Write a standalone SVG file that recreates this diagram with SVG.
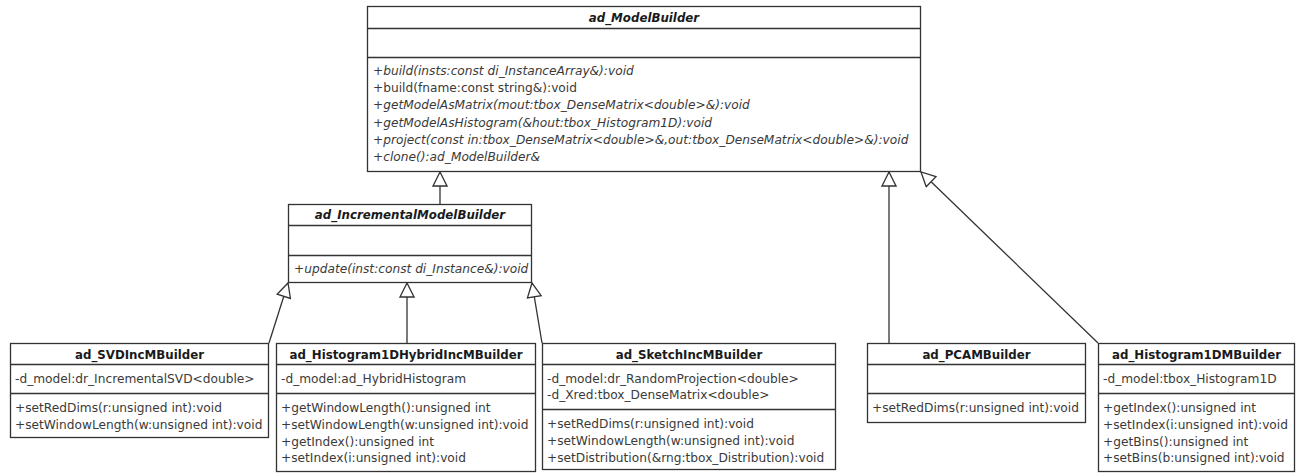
<svg xmlns="http://www.w3.org/2000/svg" width="1301" height="474" viewBox="0 0 1301 474">
  <style>
    .box { fill: #ffffff; stroke: #333333; stroke-width: 1.3; }
    .div { stroke: #333333; stroke-width: 1.3; }
    .title { font-family: "DejaVu Sans", sans-serif; font-size: 11.8px; font-weight: bold; fill: #1a1a1a; text-anchor: middle; }
    .abs { font-style: italic; }
    .mem { font-family: "DejaVu Sans", sans-serif; font-size: 12.2px; fill: #3a3a3a; }
    .it { font-style: italic; }
    .edge { fill: none; stroke: #333333; stroke-width: 1.3; }
  </style>
  <defs>
    <!-- hollow generalization triangle -->
    <marker id="gen" markerUnits="userSpaceOnUse" markerWidth="16" markerHeight="16" refX="14" refY="7" orient="auto" viewBox="-1 -1 16 16">
      <path d="M0,0 L14,7 L0,14 Z" fill="#ffffff" stroke="#333333" stroke-width="1.3"/>
    </marker>
  </defs>

  <rect width="1301" height="474" fill="#ffffff"/>

  <!-- inheritance connectors -->
  <g id="connectors">
    <path class="edge" d="M440,204 L440,172" marker-end="url(#gen)"/>
    <path class="edge" d="M889,343 L889,172" marker-end="url(#gen)"/>
    <path class="edge" d="M1098,343 L921,172" marker-end="url(#gen)"/>
    <path class="edge" d="M269,343 L288,283" marker-end="url(#gen)"/>
    <path class="edge" d="M407,343 L407,283" marker-end="url(#gen)"/>
    <path class="edge" d="M542,343 L532,283" marker-end="url(#gen)"/>
  </g>

  <!-- abstract base class -->
  <g id="ad_ModelBuilder">
    <rect class="box" x="367.5" y="6.5" width="553" height="165"/>
    <line class="div" x1="367.5" y1="28.5" x2="920.5" y2="28.5"/>
    <line class="div" x1="367.5" y1="57.5" x2="920.5" y2="57.5"/>
    <text class="title abs" x="644" y="22">ad_ModelBuilder</text>
    <text class="mem it" x="373" y="75">+build(insts:const di_InstanceArray&amp;):void</text>
    <text class="mem" x="373" y="92.2">+build(fname:const string&amp;):void</text>
    <text class="mem it" x="373" y="109.4">+getModelAsMatrix(mout:tbox_DenseMatrix&lt;double&gt;&amp;):void</text>
    <text class="mem it" x="373" y="126.6">+getModelAsHistogram(&amp;hout:tbox_Histogram1D):void</text>
    <text class="mem it" x="373" y="143.8">+project(const in:tbox_DenseMatrix&lt;double&gt;&amp;,out:tbox_DenseMatrix&lt;double&gt;&amp;):void</text>
    <text class="mem it" x="373" y="161">+clone():ad_ModelBuilder&amp;</text>
  </g>

  <!-- abstract incremental builder -->
  <g id="ad_IncrementalModelBuilder">
    <rect class="box" x="288.5" y="204.5" width="243" height="78"/>
    <line class="div" x1="288.5" y1="225.5" x2="531.5" y2="225.5"/>
    <line class="div" x1="288.5" y1="255.5" x2="531.5" y2="255.5"/>
    <text class="title abs" x="410" y="219">ad_IncrementalModelBuilder</text>
    <text class="mem it" x="294" y="273">+update(inst:const di_Instance&amp;):void</text>
  </g>

  <g id="ad_SVDIncMBuilder">
    <rect class="box" x="10.5" y="343.5" width="258" height="94"/>
    <line class="div" x1="10.5" y1="364.5" x2="268.5" y2="364.5"/>
    <line class="div" x1="10.5" y1="393.5" x2="268.5" y2="393.5"/>
    <text class="title" x="139.5" y="359">ad_SVDIncMBuilder</text>
    <text class="mem" x="15" y="382.5">-d_model:dr_IncrementalSVD&lt;double&gt;</text>
    <text class="mem" x="15" y="412">+setRedDims(r:unsigned int):void</text>
    <text class="mem" x="15" y="428.8">+setWindowLength(w:unsigned int):void</text>
  </g>

  <g id="ad_Histogram1DHybridIncMBuilder">
    <rect class="box" x="276.5" y="343.5" width="259" height="128"/>
    <line class="div" x1="276.5" y1="364.5" x2="535.5" y2="364.5"/>
    <line class="div" x1="276.5" y1="393.5" x2="535.5" y2="393.5"/>
    <text class="title" x="406" y="359">ad_Histogram1DHybridIncMBuilder</text>
    <text class="mem" x="281" y="382.5">-d_model:ad_HybridHistogram</text>
    <text class="mem" x="281" y="412">+getWindowLength():unsigned int</text>
    <text class="mem" x="281" y="428.8">+setWindowLength(w:unsigned int):void</text>
    <text class="mem" x="281" y="445.6">+getIndex():unsigned int</text>
    <text class="mem" x="281" y="462.4">+setIndex(i:unsigned int):void</text>
  </g>

  <g id="ad_SketchIncMBuilder">
    <rect class="box" x="542.5" y="343.5" width="293" height="126"/>
    <line class="div" x1="542.5" y1="364.5" x2="835.5" y2="364.5"/>
    <line class="div" x1="542.5" y1="409.5" x2="835.5" y2="409.5"/>
    <text class="title" x="689" y="359">ad_SketchIncMBuilder</text>
    <text class="mem" x="547" y="382.5">-d_model:dr_RandomProjection&lt;double&gt;</text>
    <text class="mem" x="547" y="399.3">-d_Xred:tbox_DenseMatrix&lt;double&gt;</text>
    <text class="mem" x="547" y="428.3">+setRedDims(r:unsigned int):void</text>
    <text class="mem" x="547" y="445.1">+setWindowLength(w:unsigned int):void</text>
    <text class="mem" x="547" y="461.9">+setDistribution(&amp;rng:tbox_Distribution):void</text>
  </g>

  <g id="ad_PCAMBuilder">
    <rect class="box" x="867.5" y="343.5" width="218" height="79"/>
    <line class="div" x1="867.5" y1="364.5" x2="1085.5" y2="364.5"/>
    <line class="div" x1="867.5" y1="393.5" x2="1085.5" y2="393.5"/>
    <text class="title" x="976.5" y="359">ad_PCAMBuilder</text>
    <text class="mem" x="872" y="412">+setRedDims(r:unsigned int):void</text>
  </g>

  <g id="ad_Histogram1DMBuilder">
    <rect class="box" x="1098.5" y="343.5" width="196" height="128"/>
    <line class="div" x1="1098.5" y1="364.5" x2="1294.5" y2="364.5"/>
    <line class="div" x1="1098.5" y1="393.5" x2="1294.5" y2="393.5"/>
    <text class="title" x="1196.5" y="359">ad_Histogram1DMBuilder</text>
    <text class="mem" x="1103" y="382.5">-d_model:tbox_Histogram1D</text>
    <text class="mem" x="1103" y="412">+getIndex():unsigned int</text>
    <text class="mem" x="1103" y="428.8">+setIndex(i:unsigned int):void</text>
    <text class="mem" x="1103" y="445.6">+getBins():unsigned int</text>
    <text class="mem" x="1103" y="462.4">+setBins(b:unsigned int):void</text>
  </g>
</svg>
